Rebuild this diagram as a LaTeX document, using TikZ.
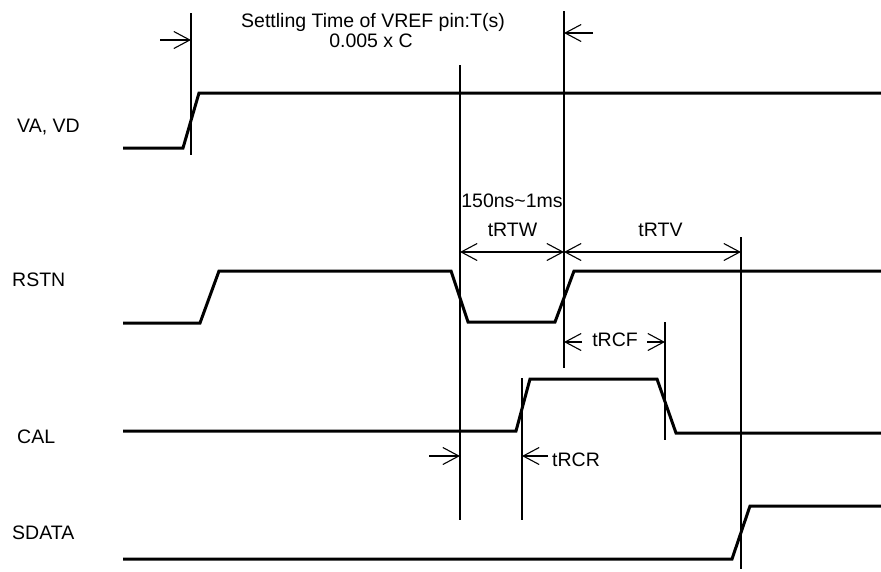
\documentclass[tikz,border=0pt]{standalone}
\usepackage{fontspec}
\setmainfont{Liberation Sans}
\usetikzlibrary{arrows.meta}
\begin{document}
\begin{tikzpicture}[x=1pt,y=-1pt,
  sig/.style={line width=3pt,line join=miter},
  thin/.style={line width=1.1pt},
  tip/.style={thin,-{Straight Barb[length=16pt,width=17pt,line width=1.1pt]}},
  dtip/.style={thin,{Straight Barb[length=16pt,width=17pt,line width=1.1pt]}-{Straight Barb[length=16pt,width=17pt,line width=1.1pt]}},
  lbl/.style={inner sep=0pt,anchor=base west,font=\fontsize{19.5}{22}\selectfont},
  txt/.style={inner sep=0pt,anchor=base,font=\fontsize{19.5}{22}\selectfont}]
\useasboundingbox (0,0) rectangle (881,571);
% labels
\node[lbl] (lva) at (17,132) {VA, VD};
\node[lbl] (lrst) at (12,286) {RSTN};
\node[lbl] (lcal) at (17,443) {CAL};
\node[lbl] (lsd) at (12,539) {SDATA};
% signals
\draw[sig] (123,148) -- (183,148) -- (199,93) -- (881,93);
\draw[sig] (123,323) -- (200,323) -- (219,271) -- (451,271) -- (468,322) -- (555,322) -- (574,271) -- (881,271);
\draw[sig] (123,431) -- (516,431) -- (530,379) -- (657,379) -- (676,433) -- (881,433);
\draw[sig] (123,559) -- (732,559) -- (750,506) -- (881,506);
% vertical reference lines
\coordinate (v1t) at (191,13);  \coordinate (v1b) at (191,155);
\coordinate (v2t) at (460,65);  \coordinate (v2b) at (460,520);
\coordinate (v3t) at (564,11);  \coordinate (v3b) at (564,368);
\coordinate (v4t) at (741,237); \coordinate (v4b) at (741,569);
\coordinate (v5t) at (665,322); \coordinate (v5b) at (665,440);
\coordinate (v6t) at (522,378); \coordinate (v6b) at (522,520);
\draw[thin] (v1t) -- (v1b);
\draw[thin] (v2t) -- (v2b);
\draw[thin] (v3t) -- (v3b);
\draw[thin] (v4t) -- (v4b);
\draw[thin] (v5t) -- (v5b);
\draw[thin] (v6t) -- (v6b);
% settling time arrows
\coordinate (a1s) at (160,40); \coordinate (a1e) at (191,40);
\coordinate (a2s) at (593,33); \coordinate (a2e) at (564,33);
\draw[tip] (a1s) -- (a1e);
\draw[tip] (a2s) -- (a2e);
\node[txt] (tset) at (373,27) {Settling Time of VREF pin:T(s)};
\node[txt] (tc) at (371,47) {0.005 x C};
% tRTW / tRTV
\coordinate (w1) at (460,252); \coordinate (w2) at (564,252); \coordinate (w3) at (741,252);
\draw[dtip] (w1) -- (w2);
\draw[dtip] (w2) -- (w3);
\node[txt] (t150) at (512,207) {150ns\textasciitilde 1ms};
\node[txt] (trtw) at (512.5,236) {tRTW};
\node[txt] (trtv) at (660.5,236) {tRTV};
% tRCF
\coordinate (f1s) at (582,342); \coordinate (f1e) at (564,342);
\coordinate (f2s) at (647,342); \coordinate (f2e) at (665,342);
\draw[tip] (f1s) -- (f1e);
\draw[tip] (f2s) -- (f2e);
\node[txt] (trcf) at (615,346) {tRCF};
% tRCR
\coordinate (r1s) at (429,456); \coordinate (r1e) at (460,456);
\coordinate (r2s) at (548,456); \coordinate (r2e) at (522,456);
\draw[tip] (r1s) -- (r1e);
\draw[tip] (r2s) -- (r2e);
\node[lbl] (trcr) at (552,466) {tRCR};
\end{tikzpicture}
\end{document}
